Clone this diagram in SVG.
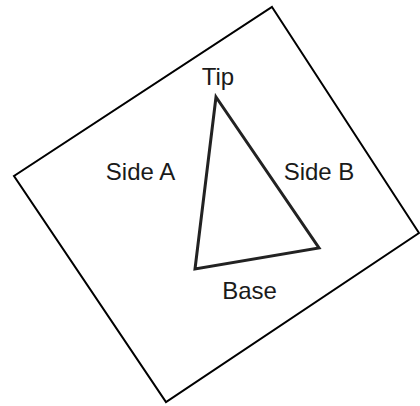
<svg xmlns="http://www.w3.org/2000/svg" width="420" height="406" viewBox="0 0 420 406">
<style>
.lbl{font-family:"Liberation Sans",Arial,sans-serif;font-size:24px;fill:#1a1a1a;text-anchor:middle}
</style>
<rect width="420" height="406" fill="#fff"/>
<g id="frame">
<polygon points="272,7 419,233 166,402 14,176" fill="none" stroke="#000" stroke-width="2" stroke-linejoin="miter"/>
</g>
<g id="triangle">
<polygon points="216,97 319,248 195,269" fill="none" stroke="#222" stroke-width="3" stroke-linejoin="miter"/>
</g>
<g id="labels">
<text class="lbl" x="218" y="85">Tip</text>
<text class="lbl" x="140.5" y="180">Side A</text>
<text class="lbl" x="319" y="180">Side B</text>
<text class="lbl" x="249.5" y="299">Base</text>
</g>
</svg>
